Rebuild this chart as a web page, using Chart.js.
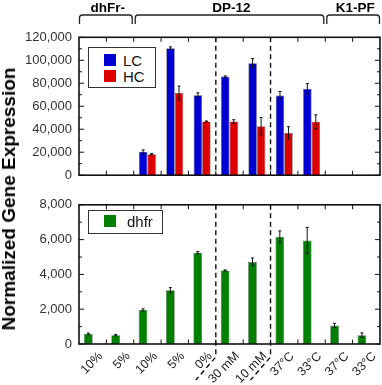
<!DOCTYPE html>
<html><head><meta charset="utf-8">
<script src="https://cdn.jsdelivr.net/npm/chart.js@4.4.1/dist/chart.umd.min.js"></script>
<style>
html,body{margin:0;padding:0;background:#fff;}
#wrap{position:relative;width:382px;height:385px;overflow:hidden;font-family:'Liberation Sans',Arial,sans-serif;}
canvas{position:absolute;left:0;}
#c1{top:0;}
#c2{top:190px;}
.ytitle{position:absolute;left:9px;top:199px;transform:translate(-50%,-50%) rotate(-90deg);font-weight:bold;font-size:19px;white-space:nowrap;color:#000;}
.legend{position:absolute;border:1.3px solid #333;background:#fff;box-sizing:border-box;}
.item{position:absolute;font-size:15px;line-height:17px;color:#111;white-space:nowrap;}
.sw{position:absolute;width:12.5px;height:12.5px;}
</style></head>
<body>
<div id="wrap">
<canvas id="c1" width="382" height="190"></canvas>
<canvas id="c2" width="382" height="195"></canvas>
<div class="ytitle">Normalized Gene Expression</div>
<div class="legend" style="left:88px;top:47px;width:68px;height:41px;"></div>
<div class="sw" style="left:103.5px;top:53.5px;background:#0000d2;"></div>
<div class="item" style="left:123px;top:51.5px;">LC</div>
<div class="sw" style="left:103.5px;top:69.5px;background:#dc0000;"></div>
<div class="item" style="left:123px;top:67.5px;">HC</div>
<div class="legend" style="left:88px;top:209.5px;width:74.5px;height:24px;"></div>
<div class="sw" style="left:103.5px;top:215px;width:12.5px;height:12px;background:#008000;"></div>
<div class="item" style="left:127px;top:212.5px;">dhfr</div>
</div>
<script>
// ---------- data ----------
const categories = ['10%','5%','10%','5%','0%','30 mM','10 mM','37°C','33°C','37°C','33°C'];
const groupLabels = ['dhFr-','DP-12','K1-PF'];
const groupFirst = [0,2,9];
const groupLast = [1,8,10];
const separatorsAfter = [4,6];
const lcValues = [null,null,20500,110500,69500,85800,97500,69300,75200,null,null];
const lcErrors = [null,null,1500,1200,2200,600,4000,3500,4500,null,null];
const hcValues = [null,null,18200,71500,46800,46800,42700,36700,46600,null,null];
const hcErrors = [null,null,700,6000,400,1500,7500,5500,6000,null,null];
const dhfrValues = [590,510,1960,3090,5250,4230,4720,6170,5950,1060,510];
const dhfrErrors = [40,40,60,150,60,30,220,330,750,130,130];
const emptyValues = [null,null,null,null,null,null,null,null,null,null,null];
const topMax = 120000, topStep = 20000, topMinor = 10000;
const botMax = 8000, botStep = 2000, botMinor = 1000;

const FONT = "'Liberation Sans', Arial, sans-serif";
const fmt = v => String(Math.round(v)).replace(/\B(?=(\d{3})+(?!\d))/g, ',');

function edge(xs, v){ return xs.getPixelForValue(v); }

const errorBarPlugin = {
  id:'errbars',
  afterDatasetsDraw(chart){
    const ctx = chart.ctx, y = chart.scales.y;
    chart.data.datasets.forEach((ds,di)=>{
      if(!ds.errors) return;
      const meta = chart.getDatasetMeta(di);
      meta.data.forEach((bar,i)=>{
        const v = ds.data[i], e = ds.errors[i];
        if(v==null || e==null) return;
        const x = bar.x, y1 = y.getPixelForValue(v+e), y2 = y.getPixelForValue(v-e);
        ctx.save();
        ctx.strokeStyle = '#111'; ctx.lineWidth = 1;
        ctx.beginPath();
        ctx.moveTo(x,y1); ctx.lineTo(x,y2);
        ctx.moveTo(x-1.5,y1); ctx.lineTo(x+1.5,y1);
        ctx.moveTo(x-1.5,y2); ctx.lineTo(x+1.5,y2);
        ctx.stroke();
        ctx.restore();
      });
    });
  }
};

const framePlugin = {
  id:'frame',
  afterDatasetsDraw(chart, args, opts){
    const ctx = chart.ctx, a = chart.chartArea, xs = chart.scales.x, ys = chart.scales.y;
    ctx.save();
    ctx.strokeStyle = '#111';
    ctx.lineWidth = 1;
    ctx.beginPath();
    for(let i=1;i<categories.length;i++){
      const x = edge(xs, i-0.5);
      ctx.moveTo(x, a.top); ctx.lineTo(x, a.top+4.5);
      ctx.moveTo(x, a.bottom); ctx.lineTo(x, a.bottom-4.5);
    }
    for(let v=0; v<=ys.max+1e-6; v+=opts.minor){
      const y = ys.getPixelForValue(v);
      const major = Math.abs(v/opts.major - Math.round(v/opts.major))<1e-6;
      const L = major ? 5 : 3;
      ctx.moveTo(a.left, y); ctx.lineTo(a.left+L, y);
      ctx.moveTo(a.right, y); ctx.lineTo(a.right-L, y);
    }
    ctx.stroke();
    ctx.lineWidth = 1.6;
    ctx.strokeRect(a.left, a.top, a.right-a.left, a.bottom-a.top);
    ctx.lineWidth = 1.4;
    ctx.setLineDash([5,3.5]);
    separatorsAfter.forEach(s=>{
      const x = edge(xs, s+0.5);
      ctx.beginPath();
      ctx.moveTo(x, a.top);
      if(opts.extend){
        ctx.lineTo(x, a.bottom+13);
        ctx.lineTo(x-20, a.bottom+36);
      } else {
        ctx.lineTo(x, a.bottom);
      }
      ctx.stroke();
    });
    ctx.restore();
  }
};

const bracePlugin = {
  id:'braces',
  afterDraw(chart){
    const ctx = chart.ctx, xs = chart.scales.x;
    ctx.save();
    ctx.strokeStyle = '#222'; ctx.lineWidth = 1.3;
    ctx.fillStyle = '#000';
    ctx.font = "bold 13.5px " + FONT;
    ctx.textAlign = 'center'; ctx.textBaseline = 'alphabetic';
    groupLabels.forEach((g,k)=>{
      let xL = edge(xs, groupFirst[k]-0.5) + 1.5;
      let xR = edge(xs, groupLast[k]+0.5) - 1.5;
      if(k===0) xL = edge(xs, groupFirst[k]-0.5) + 0.5;
      if(k===groupLabels.length-1) xR = edge(xs, groupLast[k]+0.5) - 0.5;
      const yT = 15, yB = 24, r = 3;
      ctx.beginPath();
      ctx.moveTo(xL, yB); ctx.lineTo(xL, yT+r);
      ctx.quadraticCurveTo(xL, yT, xL+r, yT);
      ctx.lineTo(xR-r, yT);
      ctx.quadraticCurveTo(xR, yT, xR, yT+r);
      ctx.lineTo(xR, yB);
      ctx.stroke();
      ctx.fillText(g, (xL+xR)/2 + 2, 12);
    });
    ctx.restore();
  }
};

const yTickFont = {family: FONT, size: 13};

new Chart(document.getElementById('c1'), {
  type:'bar',
  data:{
    labels: categories,
    datasets:[
      {label:'LC', data: lcValues, errors: lcErrors, backgroundColor:'#0000d2', borderColor:'rgba(40,40,90,0.8)', borderWidth:0.7},
      {label:'HC', data: hcValues, errors: hcErrors, backgroundColor:'#dc0000', borderColor:'rgba(90,40,40,0.8)', borderWidth:0.7}
    ]
  },
  options:{
    responsive:false, animation:false, devicePixelRatio:1,
    categoryPercentage:0.62, barPercentage:1.0,
    layout:{padding:{top:37.3, right:2, bottom:6.7, left:0}},
    plugins:{legend:{display:false}, tooltip:{enabled:false}, frame:{major:topStep, minor:topMinor, extend:false}},
    scales:{
      x:{grid:{display:false, drawTicks:false}, border:{display:false}, ticks:{display:false}, afterFit(s){ s.height = 0; }},
      y:{min:0, max:topMax, grid:{display:false, drawTicks:false}, border:{display:false},
         ticks:{stepSize:topStep, padding:7, color:'#333', font:yTickFont, callback:v=>fmt(v)},
         afterFit(s){ s.width = 79; }}
    }
  },
  plugins:[errorBarPlugin, framePlugin, bracePlugin]
});

new Chart(document.getElementById('c2'), {
  type:'bar',
  data:{
    labels: categories,
    datasets:[
      {label:'dhfr', data: dhfrValues, errors: dhfrErrors, backgroundColor:'#008000', borderColor:'rgba(40,80,40,0.8)', borderWidth:0.7},
      {label:'', data: emptyValues, backgroundColor:'rgba(0,0,0,0)'}
    ]
  },
  options:{
    responsive:false, animation:false, devicePixelRatio:1,
    categoryPercentage:0.64, barPercentage:1.0,
    layout:{padding:{top:8.3, right:2, bottom:0, left:0}},
    plugins:{legend:{display:false}, tooltip:{enabled:false}, frame:{major:botStep, minor:botMinor, extend:true}},
    scales:{
      x:{grid:{display:false, drawTicks:false}, border:{display:false},
         ticks:{autoSkip:false, minRotation:45, maxRotation:45, padding:5, labelOffset:8, color:'#222', font:{family:FONT, size:12.5}},
         afterFit(s){ s.height = 41; }},
      y:{min:0, max:botMax, grid:{display:false, drawTicks:false}, border:{display:false},
         ticks:{stepSize:botStep, padding:7, color:'#333', font:yTickFont, callback:v=>fmt(v)},
         afterFit(s){ s.width = 79; }}
    }
  },
  plugins:[errorBarPlugin, framePlugin]
});
</script>
</body></html>
